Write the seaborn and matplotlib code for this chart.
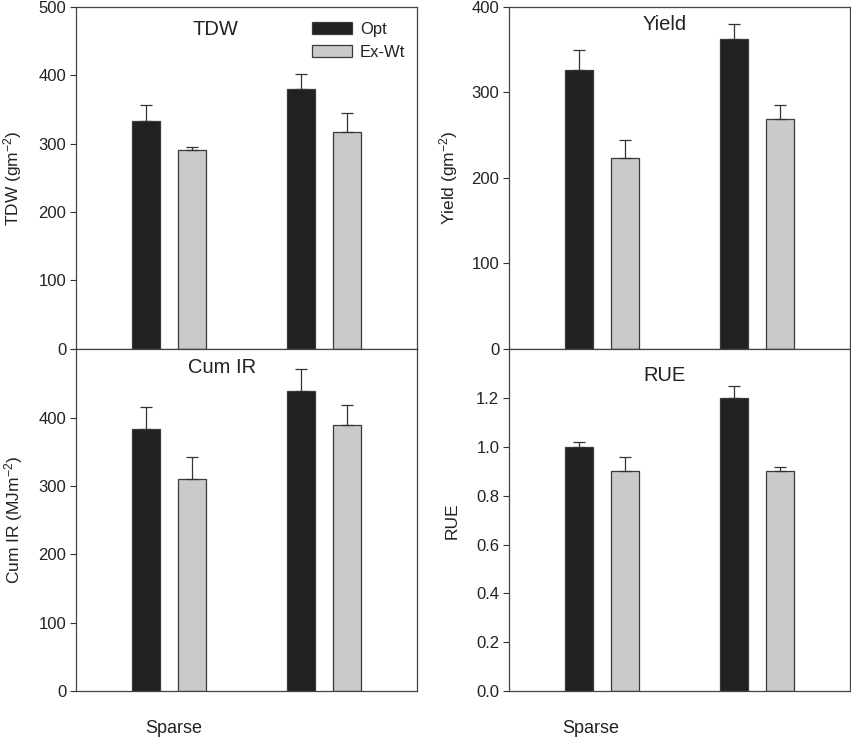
import pandas as pd
import matplotlib.pyplot as plt
import seaborn as sns
import numpy as np

# Values
groups = ["Sparse", "Dense"]
treatments = ["Opt", "Ex-Wt"]

tdw_opt = [333, 380]
tdw_ex = [290, 317]
tdw_opt_err = [23, 22]
tdw_ex_err = [5, 28]

yield_opt = [326, 363]
yield_ex = [223, 269]
yield_opt_err = [24, 17]
yield_ex_err = [21, 16]

cumir_opt = [383, 439]
cumir_ex = [311, 389]
cumir_opt_err = [33, 32]
cumir_ex_err = [31, 30]

rue_opt = [1.00, 1.20]
rue_ex = [0.90, 0.90]
rue_opt_err = [0.02, 0.05]
rue_ex_err = [0.06, 0.02]

sns.set_theme(style="ticks")
plt.rcParams['font.family'] = ['Liberation Sans', 'DejaVu Sans']
plt.rcParams['mathtext.fontset'] = 'custom'
plt.rcParams['mathtext.rm'] = 'Liberation Sans'
plt.rcParams['mathtext.it'] = 'Liberation Sans:italic'
plt.rcParams['text.color'] = '#222222'
plt.rcParams['axes.labelcolor'] = '#222222'
plt.rcParams['xtick.color'] = '#333333'
plt.rcParams['ytick.color'] = '#333333'
plt.rcParams['xtick.labelcolor'] = '#222222'
plt.rcParams['ytick.labelcolor'] = '#222222'

palette = {"Opt": "#231f20", "Ex-Wt": "#c8cacb"}


def make_df(opt, ex):
    return pd.DataFrame({
        "group": groups * 2,
        "treatment": ["Opt"] * 2 + ["Ex-Wt"] * 2,
        "value": list(opt) + list(ex),
    })


panels = [
    # title, ylabel, opt, ex, opt_err, ex_err, ylim, ticks, fmt, title pos, label x
    ("TDW", "TDW (gm$^{-2}$)", tdw_opt, tdw_ex, tdw_opt_err, tdw_ex_err,
     500, [0, 100, 200, 300, 400, 500], "{:.0f}", (0.41, 0.935), -0.152),
    ("Yield", "Yield (gm$^{-2}$)", yield_opt, yield_ex, yield_opt_err, yield_ex_err,
     400, [0, 100, 200, 300, 400], "{:.0f}", (0.457, 0.95), -0.144),
    ("Cum IR", "Cum IR (MJm$^{-2}$)", cumir_opt, cumir_ex, cumir_opt_err, cumir_ex_err,
     500, [0, 100, 200, 300, 400], "{:.0f}", (0.427, 0.947), -0.150),
    ("RUE", "RUE", rue_opt, rue_ex, rue_opt_err, rue_ex_err,
     1.4, [0.0, 0.2, 0.4, 0.6, 0.8, 1.0, 1.2], "{:.1f}", (0.455, 0.924), -0.144),
]

fig = plt.figure(figsize=(8.51, 7.39), dpi=100)
rects = [
    [0.0893, 0.5284, 0.4007, 0.4621],
    [0.5981, 0.5284, 0.4007, 0.4621],
    [0.0893, 0.0650, 0.4007, 0.4621],
    [0.5981, 0.0650, 0.4007, 0.4621],
]
sparse_pos = [None, None, 0.03, -0.07]

for i, (title, ylabel, opt, ex, opt_err, ex_err, ymax, ticks, fmt, tpos, lx) in enumerate(panels):
    ax = fig.add_axes(rects[i])
    df = make_df(opt, ex)
    sns.barplot(data=df, x="group", y="value", hue="treatment", order=groups,
                hue_order=treatments, palette=palette, width=0.593, gap=0.39,
                edgecolor="#3a3a3a", linewidth=0.9, errorbar=None, ax=ax)

    # upper-only error bars on top of each bar
    for cont, err in zip(ax.containers, [opt_err, ex_err]):
        xs = [p.get_x() + p.get_width() / 2 for p in cont.patches]
        hs = [p.get_height() for p in cont.patches]
        ax.errorbar(xs, hs, yerr=[np.zeros(len(err)), err], fmt="none",
                    ecolor="#333333", elinewidth=0.9, capsize=4, capthick=0.9,
                    zorder=1)

    ax.set_xlim(-0.6, 1.6)
    ax.set_ylim(0, ymax)
    ax.set_yticks(ticks)
    ax.set_yticklabels([fmt.format(t) for t in ticks], fontsize=12)
    ax.tick_params(axis="y", length=4, width=0.8, direction="out", pad=3)
    ax.set_ylabel(ylabel, fontsize=12.5)
    ax.yaxis.set_label_coords(lx, 0.5)
    ax.set_xlabel("")
    if i < 2:
        ax.set_xticks([])
    else:
        ax.set_xticks([sparse_pos[i]])
        ax.set_xticklabels(["Sparse"], fontsize=13)
        ax.tick_params(axis="x", length=0, pad=21)
    for s in ax.spines.values():
        s.set_color("#444444")
        s.set_linewidth(0.9)
    ax.text(tpos[0], tpos[1], title, transform=ax.transAxes, ha="center",
            va="center", fontsize=14.5)

    if i == 0:
        ax.legend(loc="upper right", bbox_to_anchor=(1.0, 0.99), frameon=False,
                  fontsize=12, handlelength=2.35, handleheight=0.72,
                  handletextpad=0.5, labelspacing=0.45, borderaxespad=0.3)
    else:
        ax.get_legend().remove()

plt.savefig("out.png", dpi=100)
